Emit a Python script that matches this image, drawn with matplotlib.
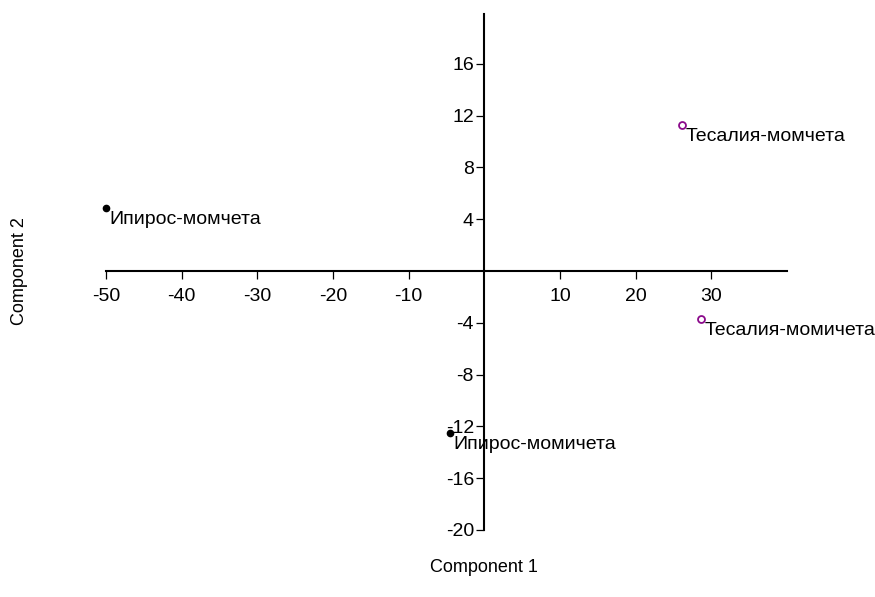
import numpy as np
import matplotlib.pyplot as plt

plt.rcParams['font.family'] = ['Liberation Sans', 'DejaVu Sans']

# scores on the first two components
names = ['Ипирос-момчета', 'Тесалия-момчета', 'Тесалия-момичета', 'Ипирос-момичета']
pc1 = [-50.0, 26.1, 28.6, -4.6]
pc2 = [4.9, 11.3, -3.7, -12.5]
region = ['Ипирос', 'Тесалия', 'Тесалия', 'Ипирос']

xticks = [-50, -40, -30, -20, -10, 10, 20, 30]
yticks = [-20, -16, -12, -8, -4, 4, 8, 12, 16]

W, H = 875, 597
fig = plt.figure(figsize=(W / 100, H / 100), dpi=100)
ax = fig.add_axes([106 / W, (H - 530) / H, (787 - 106) / W, (530 - 14) / H])

for x, y, name, reg in zip(pc1, pc2, names, region):
    if reg == 'Ипирос':
        ax.plot(x, y, 'o', ms=4.5, color='black', zorder=3, clip_on=False)
    else:
        ax.plot(x, y, 'o', ms=5, mfc='none', mec='#8b0a8b', mew=1.3, zorder=3, clip_on=False)
    ax.annotate(name, (x, y), xytext=(2.5, -2.5), textcoords='offset points',
                ha='left', va='top', fontsize=14, zorder=4)

ax.set_xlim(-50, 40)
ax.set_ylim(-20, 19.85)
ax.set_xticks(xticks)
ax.set_yticks(yticks)
ax.set_xticklabels([str(t) for t in xticks])
ax.set_yticklabels([str(t) for t in yticks])

for side in ('top', 'right'):
    ax.spines[side].set_visible(False)
ax.spines['left'].set_position(('data', 0))
ax.spines['bottom'].set_position(('data', 0))
for side in ('left', 'bottom'):
    ax.spines[side].set_linewidth(1.5)
ax.tick_params(direction='out', length=6, width=0.9, labelsize=14)
ax.tick_params(axis='x', pad=6)
ax.tick_params(axis='y', pad=1.5)
ax.patch.set_visible(False)

fig.text(484 / W, 1 - 567 / H, 'Component 1', ha='center', va='center', fontsize=13)
fig.text(20 / W, 1 - 271 / H, 'Component 2', ha='center', va='center',
         rotation=90, fontsize=13)

fig.savefig('out.png', dpi=100)
